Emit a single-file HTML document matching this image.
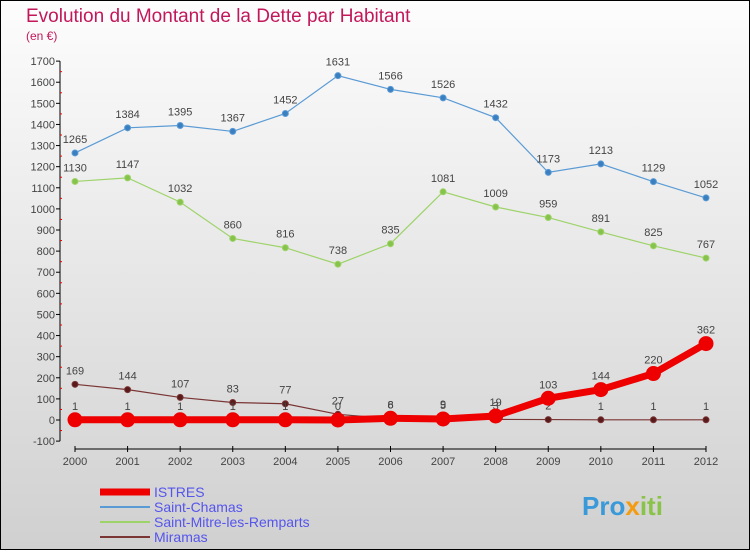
<!DOCTYPE html>
<html><head><meta charset="utf-8"><style>
body{margin:0}
#wrap{width:750px;height:550px;position:relative;font-family:"Liberation Sans",sans-serif}
</style></head><body>
<div id="wrap">
<svg id="svg" width="750" height="550" xmlns="http://www.w3.org/2000/svg">
<defs><linearGradient id="bg" x1="0" y1="0" x2="0" y2="1"><stop offset="0" stop-color="#fdfdfd"/><stop offset="1" stop-color="#d0d0d0"/></linearGradient></defs>
<rect x="0.5" y="0.5" width="749" height="549" fill="url(#bg)" stroke="#000"/>
<text x="26" y="22" font-size="19" fill="#c2185b">Evolution du Montant de la Dette par Habitant</text>
<text x="26" y="40" font-size="12" fill="#c2185b">(en €)</text>
<g id="axes"></g><g id="series"></g><g id="legend"></g>
<text x="582" y="515" font-size="26" font-weight="bold" fill="#3a9ad9">Pro<tspan fill="#f39c12">x</tspan><tspan fill="#8bc34a">iti</tspan></text>
</svg>
</div>
<script>
const years=[2000,2001,2002,2003,2004,2005,2006,2007,2008,2009,2010,2011,2012];
const yTicks=[-100,0,100,200,300,400,500,600,700,800,900,1000,1100,1200,1300,1400,1500,1600,1700];
const istres=[1,1,1,1,1,0,8,5,19,103,144,220,362];
const saintChamas=[1265,1384,1395,1367,1452,1631,1566,1526,1432,1173,1213,1129,1052];
const saintMitre=[1130,1147,1032,860,816,738,835,1081,1009,959,891,825,767];
const miramas=[169,144,107,83,77,27,6,9,3,2,1,1,1];
const NS="http://www.w3.org/2000/svg";
const x=i=>75+i*(706-75)/12;
const y=v=>420-v*(380/1800);
function mk(tag,attrs,parent,txt){const e=document.createElementNS(NS,tag);for(const k in attrs)e.setAttribute(k,attrs[k]);if(txt!==undefined)e.textContent=txt;parent.appendChild(e);return e;}
const ax=document.getElementById('axes');
let l=mk('line',{x1:60,y1:y(1700),x2:60,y2:y(-100),stroke:'#000'},ax);


yTicks.forEach(t=>{
 mk('line',{x1:56,y1:y(t),x2:60,y2:y(t),stroke:'#000'},ax);
 if(t<1700) mk('line',{x1:60,y1:y(t+50),x2:62,y2:y(t+50),stroke:'#e00'},ax);
 const tx=mk('text',{x:55,y:y(t)+4,'font-size':11,'text-anchor':'end',fill:'#444'},ax,t);
 
 
});
l=mk('line',{x1:x(0),y1:449,x2:x(12),y2:449,stroke:'#000'},ax);


years.forEach((yr,i)=>{
 mk('line',{x1:x(i),y1:446,x2:x(i),y2:452,stroke:'#000'},ax);
 const tx=mk('text',{x:x(i),y:465,'font-size':11,'text-anchor':'middle',fill:'#444'},ax,yr);
 
 
});
const S=document.getElementById('series');
function draw(vals,color,w,r,name,fill){
 const g=mk('g',{},S);
 
 
 mk('polyline',{points:vals.map((v,i)=>x(i)+','+y(v)).join(' '),fill:'none',stroke:color,'stroke-width':w},g);
 vals.forEach((v,i)=>{
  const c=mk('circle',{cx:x(i),cy:y(v),r:r,fill:fill,stroke:color,'stroke-width':1},g);
  
  
  const t=mk('text',{x:x(i),y:y(v)-10,'font-size':11,'text-anchor':'middle',fill:'#444'},g,v);
  
  
 });
}
draw(saintChamas,'#5b9bd5',1.2,3,'saint-chamas','#3a7fc0');
draw(saintMitre,'#9ed36a',1.2,3,'saint-mitre','#86c34a');
draw(miramas,'#7a3535',1.2,3,'miramas','#5a1a1a');
draw(istres,'#ee0000',7,7,'istres','#ee0000');
const L=document.getElementById('legend');
const items=[['ISTRES','#ee0000',7],['Saint-Chamas','#5b9bd5',2],['Saint-Mitre-les-Remparts','#9ed36a',2],['Miramas','#7a3535',2]];
items.forEach((it,i)=>{
 const g=mk('g',{},L);
 
 
 const yy=492+i*15;
 mk('line',{x1:100,y1:yy,x2:150,y2:yy,stroke:it[1],'stroke-width':it[2]},g);
 mk('text',{x:154,y:yy+5,'font-size':14,fill:'#5555ee'},g,it[0]);
});
</script>
</body></html>
